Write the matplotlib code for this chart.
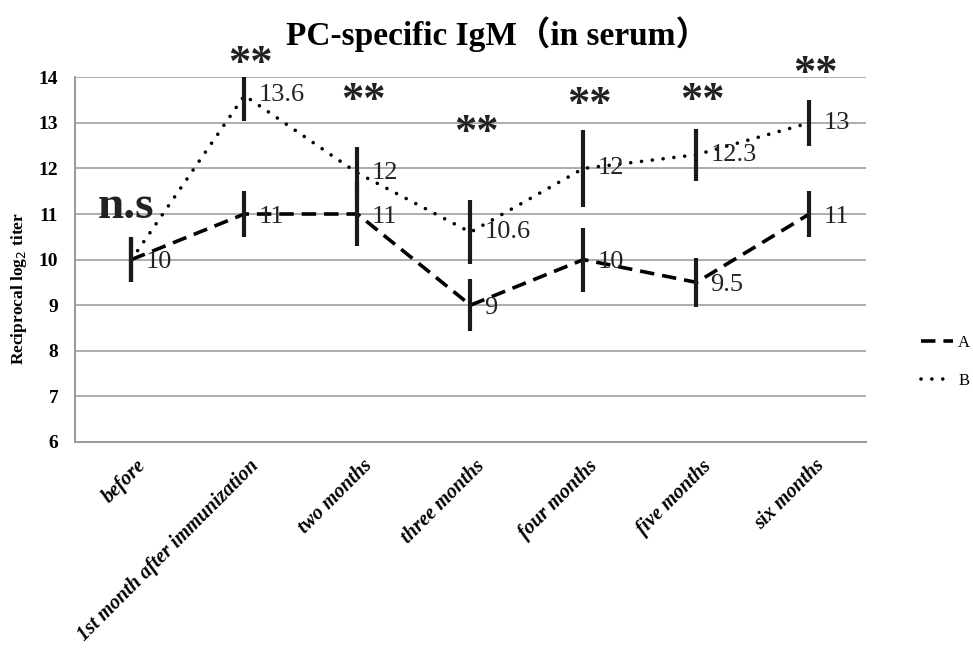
import matplotlib
matplotlib.use("Agg")
import matplotlib.pyplot as plt
import numpy as np

# categories and series
months = ["before", "1st month after immunization", "two months", "three months",
          "four months", "five months", "six months"]
a_vals = [10, 11, 11, 9, 10, 9.5, 11]
b_vals = [10, 13.6, 11.9, 10.6, 12, 12.3, 13]
a_err = [0.5, 0.5, 0.7, 0.57, 0.7, 0.53, 0.5]
b_err = [0.5, 0.55, 0.57, 0.7, 0.85, 0.57, 0.5]
a_labels = ["10", "11", "11", "9", "10", "9.5", "11"]
b_labels = ["", "13.6", "12", "10.6", "12", "12.3", "13"]
# significance marks (category index, height)
star_idx = [1, 2, 3, 4, 5, 6]
star_y = [14.28, 13.48, 12.78, 13.38, 13.48, 14.08]

serif = ["Liberation Serif", "DejaVu Serif"]
plt.rcParams["font.family"] = serif

fig = plt.figure(figsize=(9.73, 6.49), dpi=100)
ax = fig.add_axes([0.077, 0.319, 0.813, 0.562])
x = np.arange(len(months))

# series lines
ax.plot(x, a_vals, color="black", lw=2.6, linestyle=(0, (4, 2.2)), label="A",
        zorder=3)
ax.plot(x, b_vals, color="black", lw=2.6, linestyle=(0, (0.01, 3.0)),
        dash_capstyle="round", label="B", zorder=3)

# error bars (thick vertical lines, no caps)
ax.errorbar(x, a_vals, yerr=a_err, fmt="none", ecolor="#1a1a1a", elinewidth=3,
            capsize=0, zorder=4)
ax.errorbar(x, b_vals, yerr=b_err, fmt="none", ecolor="#1a1a1a", elinewidth=3,
            capsize=0, zorder=4)

# value labels
for xi, v, t in zip(x, a_vals, a_labels):
    ax.annotate(t, (xi, v), xytext=(10, -2), textcoords="offset points",
                ha="left", va="center", fontsize=19, color="#222222")
for xi, v, t in zip(x, b_vals, b_labels):
    if t:
        ax.annotate(t, (xi, v), xytext=(10, 0), textcoords="offset points",
                    ha="left", va="center", fontsize=19, color="#222222")

for i, sy in zip(star_idx, star_y):
    ax.text(x[i] + 0.05, sy, "**", ha="center", va="center", fontsize=32,
            fontweight="bold", color="#222222", clip_on=False)

ax.text(-0.05, 11.15, "n.s", ha="center", va="center", fontsize=34,
        fontweight="bold", color="#222222")

ax.set_xlim(-0.5, len(months) - 0.5)
ax.set_ylim(6, 14)
ax.set_yticks(range(6, 15))
ax.yaxis.grid(True, color="#a0a0a0", lw=1.2)
ax.set_axisbelow(True)
for s in ["top", "right"]:
    ax.spines[s].set_visible(False)
for s in ["left", "bottom"]:
    ax.spines[s].set_color("#999999")
    ax.spines[s].set_linewidth(1.4)
ax.tick_params(axis="y", length=0, pad=12)
ax.tick_params(axis="x", length=0, pad=10)
ax.set_xticks(x + 0.04)
ax.set_xticklabels(months, rotation=45, ha="right", rotation_mode="anchor",
                   fontsize=14.5, fontweight="bold", fontstyle="italic")
for lab in ax.get_yticklabels():
    lab.set_fontweight("bold")
    lab.set_fontsize(14)
ax.set_ylabel("Reciprocal log$_2$ titer", fontsize=12.5, fontweight="bold")
ax.yaxis.set_label_coords(-0.058, 0.42)

fig.suptitle("PC-specific IgM（in serum）", x=0.511, y=0.975, fontsize=24,
             fontweight="bold", family=["Liberation Serif", "Noto Sans CJK JP"])

fig.legend(loc="center left", bbox_to_anchor=(0.947, 0.442),
           bbox_transform=fig.transFigure, frameon=False, fontsize=12,
           handlelength=1.9, handletextpad=0.3, labelspacing=1.3,
           borderpad=0, borderaxespad=0)

fig.savefig("out.png", dpi=100)
